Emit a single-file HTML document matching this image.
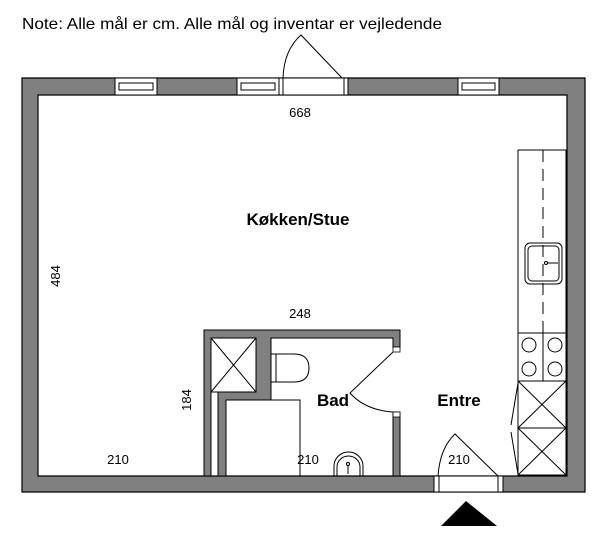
<!DOCTYPE html>
<html><head><meta charset="utf-8"><style>
html,body{margin:0;padding:0;background:#fff;}
svg{display:block;}
text{font-family:"Liberation Sans",sans-serif;fill:#000;}
</style></head><body>
<svg width="600" height="538" viewBox="0 0 600 538" xmlns="http://www.w3.org/2000/svg">
<text x="22" y="29" font-size="16" textLength="420" lengthAdjust="spacingAndGlyphs">Note: Alle mål er cm. Alle mål og inventar er vejledende</text>
<!-- outer walls -->
<path d="M22,78 H585 V492 H22 Z M38,95 V476 H567 V95 Z" fill="#808080" fill-rule="evenodd" stroke="#000" stroke-width="1.2"/>
<!-- top windows -->
<g stroke="#000" stroke-width="1" fill="#fff">
<rect x="115" y="78" width="42" height="17"/><rect x="119" y="83" width="34" height="7"/>
<rect x="237" y="78" width="42" height="17"/><rect x="241" y="83" width="34" height="7"/>
<rect x="458" y="78" width="41" height="17"/><rect x="462" y="83" width="33" height="7"/>
<rect x="279" y="78" width="69" height="17"/>
<rect x="279" y="78" width="4" height="17"/><rect x="344" y="78" width="4" height="17"/>
</g>
<path d="M283,78 Q284,50 301,35 L342,78" fill="none" stroke="#000" stroke-width="1"/>
<!-- bottom entrance door -->
<g stroke="#000" stroke-width="1" fill="#fff">
<rect x="434" y="476" width="69" height="16"/>
<rect x="434" y="476" width="5" height="16"/><rect x="498" y="476" width="5" height="16"/>
</g>
<path d="M438,476 Q440,448 455,434 L498,476" fill="none" stroke="#000" stroke-width="1"/>
<polygon points="466,501 441,526 497,526" fill="#000"/>
<!-- bathroom walls -->
<g fill="#808080" stroke="#000" stroke-width="1">
<path d="M204,476 V330 H400 V347 H393 V338 H271 V400 H226 V476 H218 V392 H256 V338 H211 V476 Z"/>
<rect x="393" y="412" width="7" height="64"/>
</g>
<rect x="393" y="347" width="7" height="5" fill="#fff" stroke="#000" stroke-width="0.8"/>
<rect x="393" y="412" width="7" height="5" fill="#fff" stroke="#000" stroke-width="0.8"/>
<g stroke="#000" stroke-width="1" fill="none">
<rect x="211" y="338" width="45" height="54"/>
<line x1="211" y1="338" x2="256" y2="392"/><line x1="256" y1="338" x2="211" y2="392"/>
<path d="M393,352 L350,393 Q365,410 393,412"/>
<rect x="226" y="400" width="74" height="76"/>
<rect x="271" y="354" width="5" height="28"/>
<path d="M276,354 H294 Q309,354 309,368 Q309,382 294,382 H276"/>
<path d="M334,476 V466 A14.5,14 0 0 1 363,466 V476"/>
<path d="M337,476 V467 A11.5,11 0 0 1 360,467 V476"/>
<circle cx="348" cy="464" r="1.5"/><line x1="348" y1="466" x2="348" y2="474"/>
</g>
<!-- kitchen -->
<g stroke="#000" stroke-width="1" fill="none">
<rect x="518" y="150" width="48" height="325"/>
<line x1="543" y1="150" x2="543" y2="333" stroke-dasharray="12,7"/>
<rect x="525" y="243" width="37" height="41" rx="5"/>
<rect x="528" y="246" width="31" height="35" rx="4"/>
<circle cx="546" cy="263" r="1.5"/><line x1="548" y1="263" x2="558" y2="263"/>
<line x1="518" y1="333" x2="566" y2="333"/>
<line x1="543" y1="333" x2="543" y2="381"/>
<circle cx="529" cy="345" r="7"/><circle cx="555" cy="345" r="7"/>
<circle cx="529" cy="369" r="7"/><circle cx="555" cy="369" r="7"/>
<line x1="518" y1="381" x2="566" y2="381"/>
<line x1="518" y1="428" x2="566" y2="428"/>
<line x1="518" y1="381" x2="566" y2="428"/><line x1="566" y1="381" x2="518" y2="428"/>
<line x1="518" y1="428" x2="566" y2="475"/><line x1="566" y1="428" x2="518" y2="475"/>
<line x1="518" y1="383" x2="511" y2="425"/>
<line x1="511" y1="432" x2="518" y2="474"/>
</g>
<!-- labels -->
<text x="300" y="117" font-size="13" text-anchor="middle">668</text>
<text x="298" y="225" font-size="17" font-weight="bold" text-anchor="middle">Køkken/Stue</text>
<text x="0" y="0" font-size="13" text-anchor="middle" transform="translate(60,276) rotate(-90)">484</text>
<text x="300" y="318" font-size="13" text-anchor="middle">248</text>
<text x="0" y="0" font-size="13" text-anchor="middle" transform="translate(191,400) rotate(-90)">184</text>
<text x="118" y="464" font-size="13" text-anchor="middle">210</text>
<text x="308" y="464" font-size="13" text-anchor="middle">210</text>
<text x="459" y="464" font-size="13" text-anchor="middle">210</text>
<text x="333" y="406" font-size="17" font-weight="bold" text-anchor="middle">Bad</text>
<text x="459" y="406" font-size="17" font-weight="bold" text-anchor="middle">Entre</text>
</svg>
</body></html>
